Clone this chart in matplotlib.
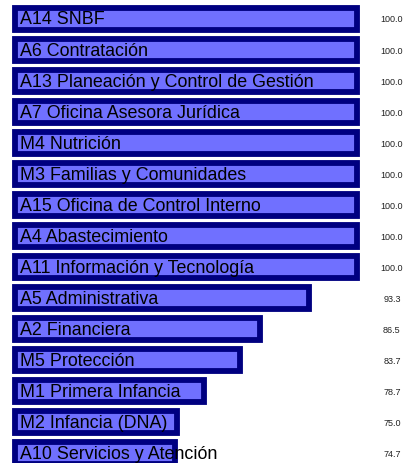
import matplotlib
matplotlib.use('Agg')
import matplotlib.pyplot as plt

plt.rcParams['font.family'] = ['Liberation Sans', 'DejaVu Sans']

# data
labels = ['A14 SNBF', 'A6 Contratación', 'A13 Planeación y Control de Gestión',
          'A7 Oficina Asesora Jurídica', 'M4 Nutrición', 'M3 Familias y Comunidades',
          'A15 Oficina de Control Interno', 'A4 Abastecimiento',
          'A11 Información y Tecnología', 'A5 Administrativa', 'A2 Financiera',
          'M5 Protección', 'M1 Primera Infancia', 'M2 Infancia (DNA)',
          'A10 Servicios y Atención']
values = [100.0, 100.0, 100.0, 100.0, 100.0, 100.0, 100.0, 100.0, 100.0,
          93.3, 86.5, 83.7, 78.7, 75.0, 74.7]

base = 52.45
fill_col = '#7070ff'
edge_col = '#000080'

fig = plt.figure(figsize=(4.07, 4.64), dpi=100)
ax = fig.add_axes([0, 0, 1, 1])

ypos = list(range(len(values)))
widths = [v - base for v in values]
ax.barh(ypos, widths, left=base, height=0.715, color=fill_col,
        edgecolor=edge_col, linewidth=4.2)

for y, lab, v in zip(ypos, labels, values):
    ax.text(base + 0.65, y, lab, ha='left', va='center', fontsize=12.9, color='black')
    ax.text(104.85, y, f'{v:.1f}', ha='center', va='center', fontsize=6.5, color='#222222')

ax.set_xlim(50.37, 106.95)
ax.set_ylim(14.32, -0.645)
ax.axis('off')

fig.savefig('out.png', dpi=100)
